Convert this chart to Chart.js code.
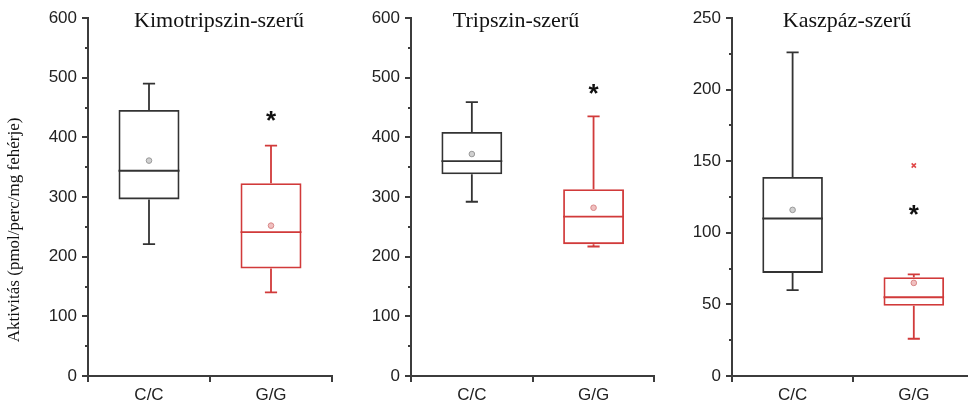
<!DOCTYPE html>
<html lang="hu">
<head>
<meta charset="utf-8">
<title>Proteaszóma aktivitás</title>
<script src="https://cdn.jsdelivr.net/npm/chart.js@4.4.1/dist/chart.umd.min.js"></script>
<style>
  html, body { margin: 0; padding: 0; background: #fff; }
  #wrap { position: relative; width: 968px; height: 408px; overflow: hidden; }
  #wrap canvas { position: absolute; top: 0; }
</style>
</head>
<body>
<div id="wrap">
  <canvas id="kimo" width="340" height="408" style="left:0"></canvas>
  <canvas id="trip" width="320" height="408" style="left:340px"></canvas>
  <canvas id="kasz" width="320" height="408" style="left:660px"></canvas>
</div>
<script>
'use strict';

// genotype groups
const groups = ['C/C', 'G/G'];

// Kimotripszin-szerű  [C/C, G/G]
const kimoMin    = [221, 140];
const kimoQ1     = [296, 180];
const kimoMedian = [344, 241];
const kimoQ3     = [446, 323];
const kimoMax    = [490, 386];
const kimoMean   = [361, 252];
const kimoStar   = [null, 439];
const kimoOut    = [null, null];

// Tripszin-szerű
const tripMin    = [292, 217];
const tripQ1     = [338, 221];
const tripMedian = [360, 267];
const tripQ3     = [409, 313];
const tripMax    = [459, 435];
const tripMean   = [372, 282];
const tripStar   = [null, 485];
const tripOut    = [null, null];

// Kaszpáz-szerű
const kaszMin    = [60, 26];
const kaszQ1     = [72, 49];
const kaszMedian = [110, 55];
const kaszQ3     = [139, 69];
const kaszMax    = [226, 71];
const kaszMean   = [116, 65];
const kaszStar   = [null, 117];
const kaszOut    = [null, 147];

// axis ranges
const kimoAxis = { max: 600, step: 50, major: 100 };
const tripAxis = { max: 600, step: 50, major: 100 };
const kaszAxis = { max: 250, step: 25, major: 50 };

const Y_TITLE = 'Aktivitás (pmol/perc/mg fehérje)';

const AXIS   = '#3c3c3c';
const LABEL  = '#222222';
const LINE_COLORS  = ['#333333', '#d13a3a'];
const MEAN_FILL    = ['#d0d0d0', '#f0c0c0'];
const MEAN_BORDER  = ['#999999', '#d88888'];
const SANS  = '"Liberation Sans", Arial, sans-serif';
const SERIF = '"Liberation Serif", "Times New Roman", serif';

// ──────────────────────────────────────────────
//  Whiskers, medians, asterisks, titles
// ──────────────────────────────────────────────
const boxExtras = {
  id: 'boxExtras',
  afterDatasetsDraw(chart, args, opts) {
    const { ctx } = chart;
    const y = chart.scales.y;
    const py = v => y.getPixelForValue(v);
    const bars = chart.getDatasetMeta(0).data;

    bars.forEach((bar, i) => {
      const cx = bar.x;
      const half = bar.width / 2;
      const cap = bar.width * 0.1;
      ctx.save();
      ctx.strokeStyle = LINE_COLORS[i];
      ctx.lineWidth = 1.8;
      ctx.beginPath();
      // upper whisker
      ctx.moveTo(cx, py(opts.q3[i]));
      ctx.lineTo(cx, py(opts.max[i]));
      ctx.moveTo(cx - cap, py(opts.max[i]));
      ctx.lineTo(cx + cap, py(opts.max[i]));
      // lower whisker
      ctx.moveTo(cx, py(opts.q1[i]));
      ctx.lineTo(cx, py(opts.min[i]));
      ctx.moveTo(cx - cap, py(opts.min[i]));
      ctx.lineTo(cx + cap, py(opts.min[i]));
      // median
      ctx.moveTo(cx - half, py(opts.median[i]));
      ctx.lineTo(cx + half, py(opts.median[i]));
      ctx.stroke();

      if (opts.star[i] != null) {
        ctx.fillStyle = '#111';
        ctx.font = 'bold 26px ' + SANS;
        ctx.textAlign = 'center';
        ctx.textBaseline = 'alphabetic';
        ctx.fillText('*', cx, py(opts.star[i]) + 15);
      }
      ctx.restore();
    });
  },
  afterDraw(chart, args, opts) {
    const { ctx } = chart;
    const y = chart.scales.y;

    // short minor ticks on the value axis
    ctx.save();
    ctx.strokeStyle = AXIS;
    ctx.lineWidth = 2;
    ctx.beginPath();
    y.ticks.forEach(t => {
      if (t.value % opts.major !== 0) {
        const p = Math.round(y.getPixelForValue(t.value));
        ctx.moveTo(chart.chartArea.left - 3, p);
        ctx.lineTo(chart.chartArea.left, p);
      }
    });
    ctx.stroke();

    // panel title
    ctx.fillStyle = '#111';
    ctx.font = '22px ' + SERIF;
    ctx.textAlign = 'center';
    ctx.textBaseline = 'alphabetic';
    ctx.fillText(opts.title, opts.titleX, 27);

    // shared value-axis title (first panel only)
    if (opts.yTitle) {
      ctx.translate(19, 230);
      ctx.rotate(-Math.PI / 2);
      ctx.font = '17px ' + SERIF;
      ctx.fillText(opts.yTitle, 0, 0);
    }
    ctx.restore();
  }
};

function buildPanel(id, s) {
  const boxes = s.q1.map((q, i) => [q, s.q3[i]]);
  return new Chart(document.getElementById(id), {
    type: 'bar',
    data: {
      labels: groups,
      datasets: [
        {
          label: 'IQR',
          data: boxes,
          backgroundColor: 'rgba(0,0,0,0)',
          borderColor: LINE_COLORS,
          borderWidth: 1.8,
          borderSkipped: false,
          barPercentage: 0.5,
          categoryPercentage: 1,
          order: 3,
        },
        {
          type: 'line',
          label: 'Átlag',
          data: s.mean,
          showLine: false,
          pointStyle: 'circle',
          pointRadius: 2.8,
          pointBackgroundColor: MEAN_FILL,
          pointBorderColor: MEAN_BORDER,
          pointBorderWidth: 1,
          order: 2,
        },
        {
          type: 'line',
          label: 'Kiugró',
          data: s.out,
          showLine: false,
          pointStyle: 'crossRot',
          pointRadius: 3,
          pointBorderColor: '#e04848',
          pointBorderWidth: 1.6,
          order: 1,
        },
      ],
    },
    options: {
      responsive: false,
      animation: false,
      events: [],
      layout: { padding: { top: 18, right: s.padRight, left: 0, bottom: 0 } },
      plugins: {
        legend: { display: false },
        tooltip: { enabled: false },
        boxExtras: {
          min: s.min, q1: s.q1, median: s.median, q3: s.q3, max: s.max,
          star: s.star, major: s.axis.major,
          title: s.title, titleX: s.titleX, yTitle: s.yTitle,
        },
      },
      scales: {
        x: {
          offset: true,
          grid: {
            offset: true,
            drawOnChartArea: false,
            drawTicks: true,
            tickLength: 6,
            color: AXIS,
            lineWidth: 2,
          },
          border: { display: true, color: AXIS, width: 2 },
          ticks: { font: { family: SANS, size: 17 }, color: LABEL, padding: 3 },
          afterFit: sc => { sc.height = 32; },
        },
        y: {
          min: 0,
          max: s.axis.max,
          grid: {
            drawOnChartArea: false,
            drawTicks: true,
            tickLength: 6,
            lineWidth: 2,
            color: c => (c.tick && c.tick.value % s.axis.major !== 0) ? 'rgba(0,0,0,0)' : AXIS,
          },
          border: { display: true, color: AXIS, width: 2 },
          ticks: {
            stepSize: s.axis.step,
            autoSkip: false,
            padding: 5,
            font: { family: SANS, size: 17 },
            color: LABEL,
            callback: v => (v % s.axis.major === 0 ? v : ''),
          },
          afterFit: sc => { sc.width = s.axisLeft; },
        },
      },
    },
    plugins: [boxExtras],
  });
}

buildPanel('kimo', {
  min: kimoMin, q1: kimoQ1, median: kimoMedian, q3: kimoQ3, max: kimoMax,
  mean: kimoMean, star: kimoStar, out: kimoOut, axis: kimoAxis,
  title: 'Kimotripszin-szerű', titleX: 219, yTitle: Y_TITLE,
  axisLeft: 88, padRight: 8,
});

buildPanel('trip', {
  min: tripMin, q1: tripQ1, median: tripMedian, q3: tripQ3, max: tripMax,
  mean: tripMean, star: tripStar, out: tripOut, axis: tripAxis,
  title: 'Tripszin-szerű', titleX: 176, yTitle: null,
  axisLeft: 71, padRight: 5,
});

buildPanel('kasz', {
  min: kaszMin, q1: kaszQ1, median: kaszMedian, q3: kaszQ3, max: kaszMax,
  mean: kaszMean, star: kaszStar, out: kaszOut, axis: kaszAxis,
  title: 'Kaszpáz-szerű', titleX: 187, yTitle: null,
  axisLeft: 72, padRight: 4,
});
</script>
</body>
</html>
